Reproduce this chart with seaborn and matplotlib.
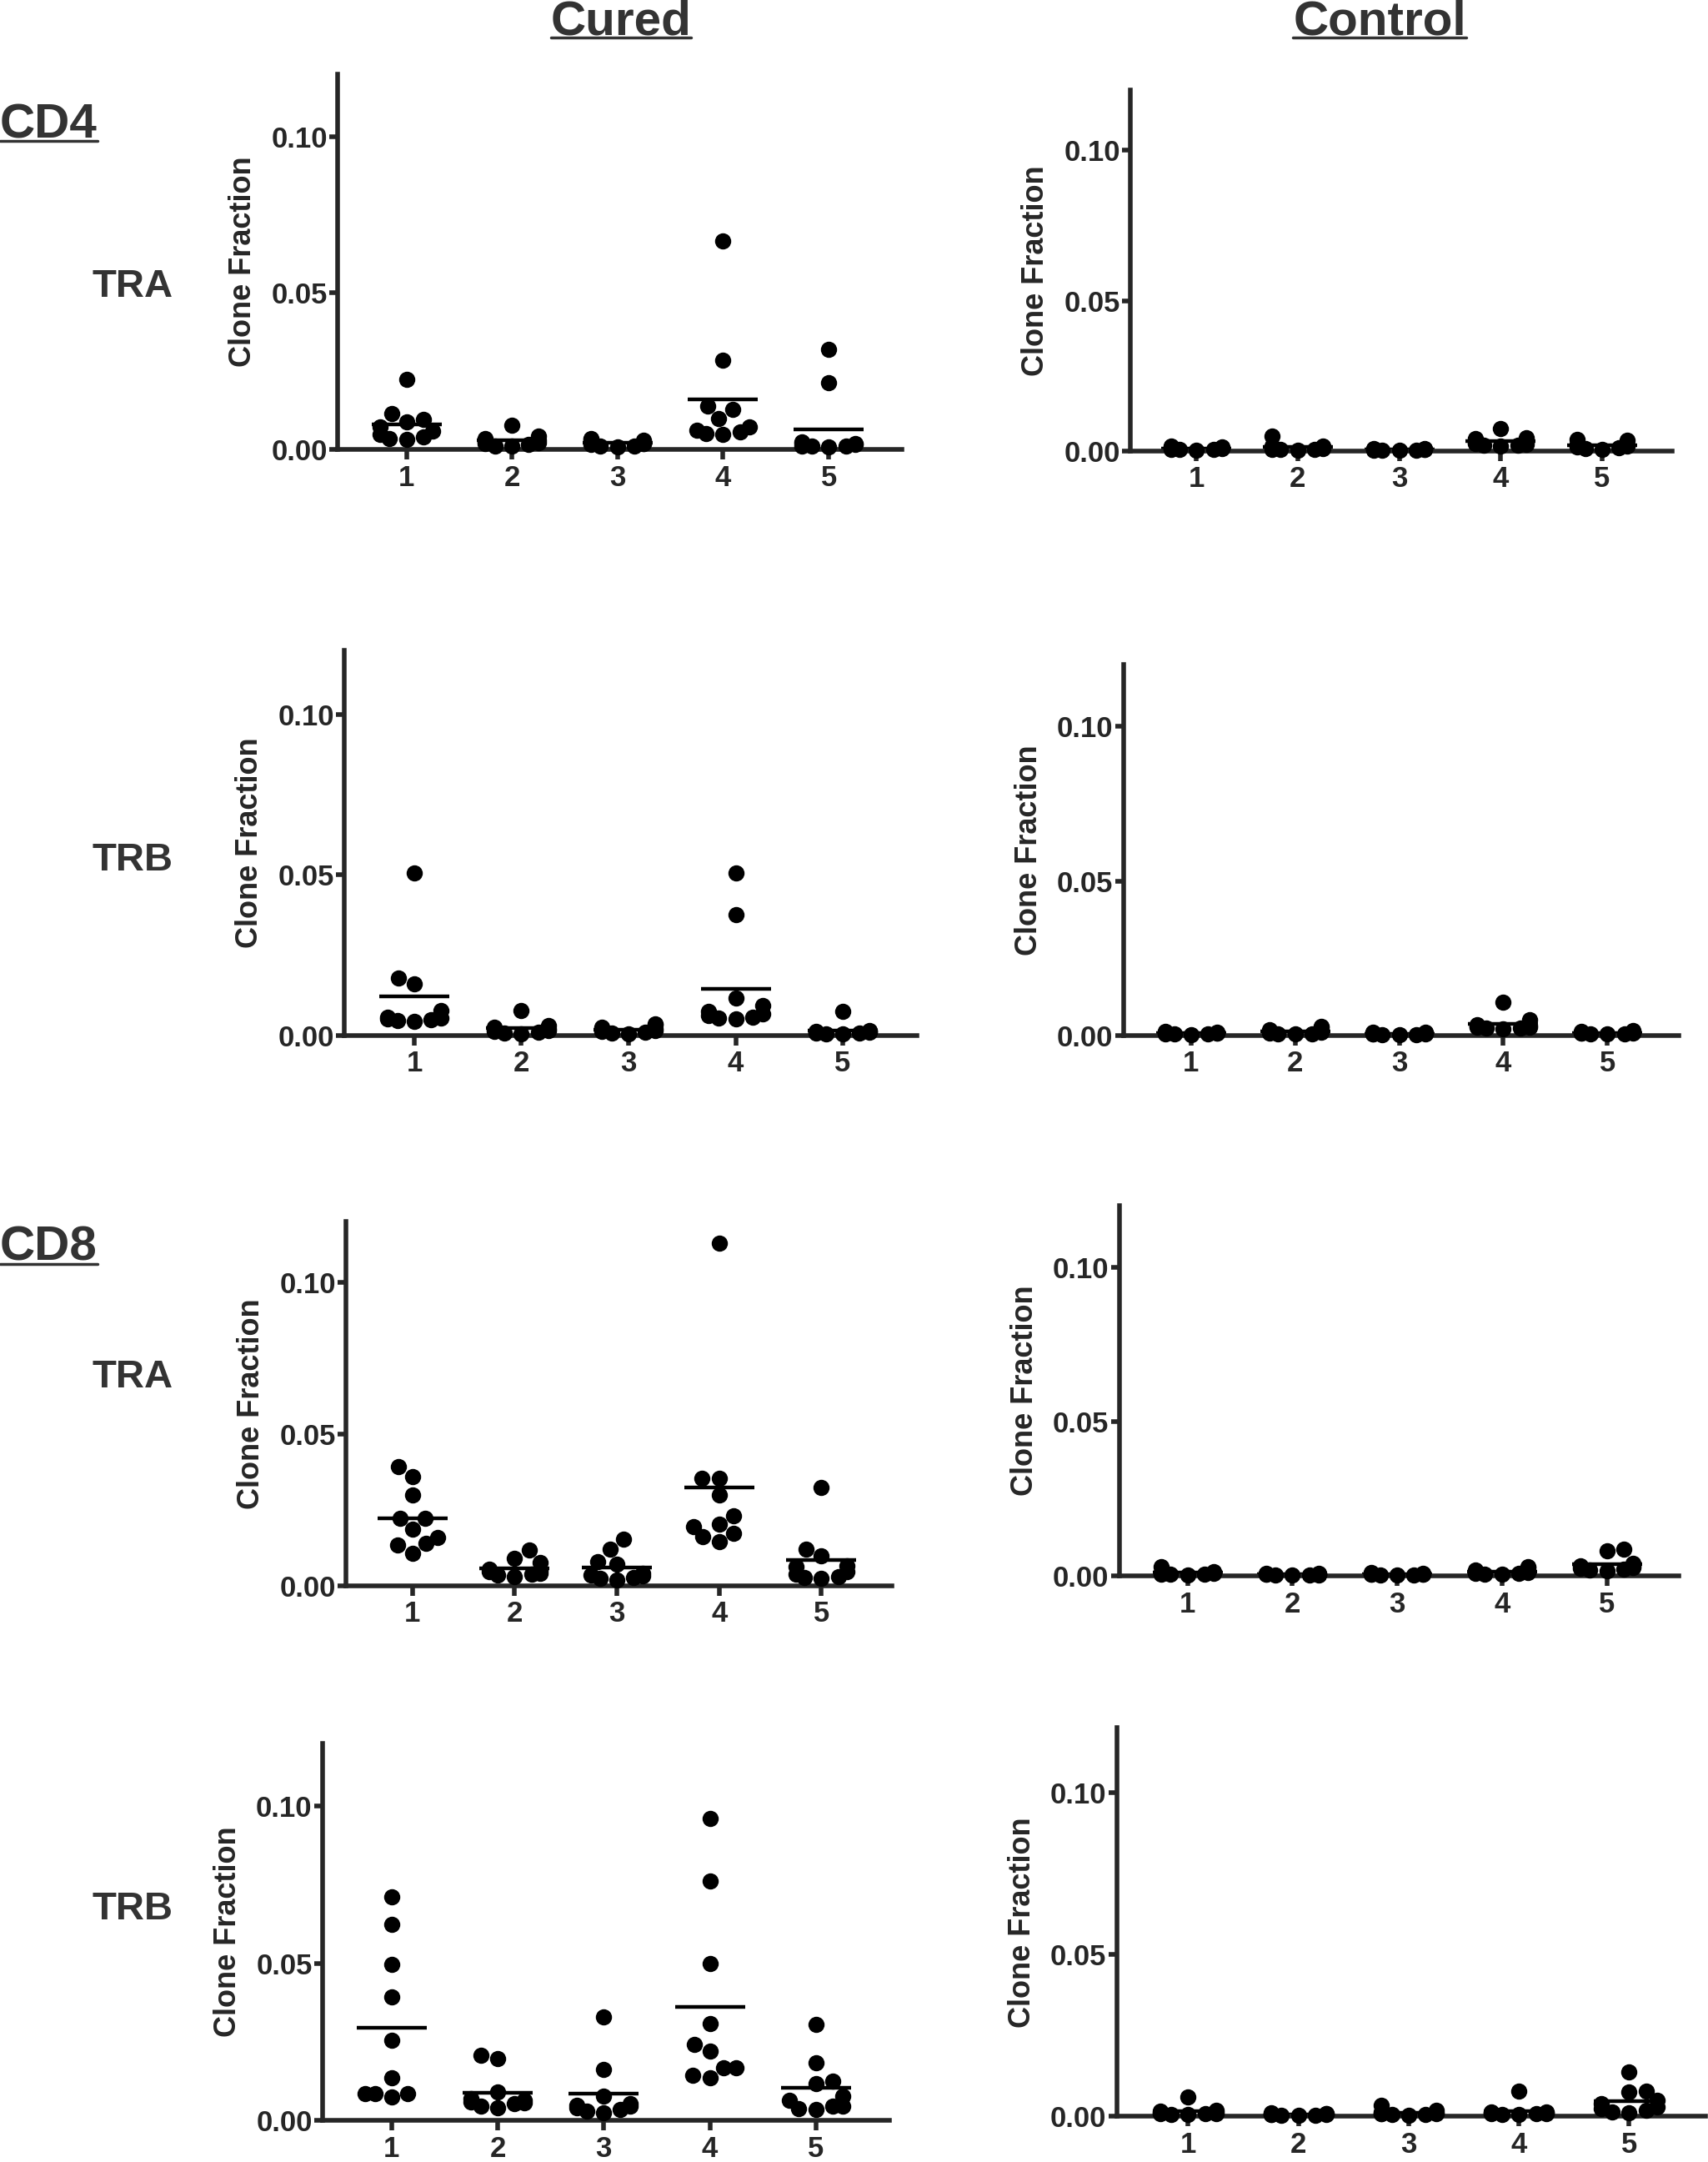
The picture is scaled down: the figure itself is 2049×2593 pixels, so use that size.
import numpy as np
import pandas as pd
import matplotlib
matplotlib.use("Agg")
import matplotlib.pyplot as plt
from matplotlib.lines import Line2D
import seaborn as sns
from seaborn import categorical

# clone fractions per sample group (10 clones each)
groups = ["1", "2", "3", "4", "5"]

cd4_tra_cured = [
    [0.0225, 0.0115, 0.0095, 0.0088, 0.0072, 0.0058, 0.0048, 0.0040, 0.0035, 0.0032],
    [0.0078, 0.0042, 0.0035, 0.0030, 0.0025, 0.0022, 0.0020, 0.0015, 0.0012, 0.0010],
    [0.0035, 0.0033, 0.0030, 0.0025, 0.0020, 0.0018, 0.0015, 0.0012, 0.0010, 0.0008],
    [0.0665, 0.0285, 0.0138, 0.0128, 0.0098, 0.0072, 0.0062, 0.0055, 0.0050, 0.0048],
    [0.0320, 0.0213, 0.0025, 0.0020, 0.0018, 0.0015, 0.0012, 0.0010, 0.0010, 0.0007],
]
cd4_tra_control = [
    [0.0016, 0.0014, 0.0012, 0.0010, 0.0008, 0.0007, 0.0006, 0.0005, 0.0004, 0.0003],
    [0.0048, 0.0017, 0.0015, 0.0012, 0.0010, 0.0008, 0.0006, 0.0005, 0.0004, 0.0003],
    [0.0008, 0.0007, 0.0006, 0.0005, 0.0005, 0.0004, 0.0003, 0.0003, 0.0002, 0.0002],
    [0.0073, 0.0045, 0.0042, 0.0030, 0.0028, 0.0025, 0.0022, 0.0020, 0.0018, 0.0015],
    [0.0037, 0.0035, 0.0022, 0.0020, 0.0018, 0.0015, 0.0012, 0.0010, 0.0008, 0.0006],
]
cd4_trb_cured = [
    [0.0507, 0.0178, 0.0160, 0.0078, 0.0058, 0.0055, 0.0052, 0.0050, 0.0047, 0.0045],
    [0.0078, 0.0030, 0.0025, 0.0020, 0.0018, 0.0015, 0.0012, 0.0010, 0.0008, 0.0006],
    [0.0035, 0.0033, 0.0025, 0.0020, 0.0018, 0.0015, 0.0012, 0.0010, 0.0008, 0.0006],
    [0.0507, 0.0375, 0.0117, 0.0092, 0.0075, 0.0068, 0.0062, 0.0058, 0.0055, 0.0052],
    [0.0076, 0.0015, 0.0013, 0.0012, 0.0010, 0.0009, 0.0008, 0.0007, 0.0006, 0.0005],
]
cd4_trb_control = [
    [0.0012, 0.0011, 0.0010, 0.0009, 0.0008, 0.0007, 0.0006, 0.0005, 0.0004, 0.0003],
    [0.0029, 0.0027, 0.0020, 0.0015, 0.0012, 0.0010, 0.0008, 0.0006, 0.0005, 0.0004],
    [0.0011, 0.0010, 0.0008, 0.0007, 0.0006, 0.0005, 0.0004, 0.0003, 0.0003, 0.0002],
    [0.0108, 0.0052, 0.0034, 0.0031, 0.0030, 0.0028, 0.0027, 0.0025, 0.0023, 0.0022],
    [0.0015, 0.0014, 0.0012, 0.0010, 0.0009, 0.0008, 0.0007, 0.0006, 0.0005, 0.0004],
]
cd8_tra_cured = [
    [0.0392, 0.0360, 0.0300, 0.0222, 0.0222, 0.0185, 0.0158, 0.0139, 0.0135, 0.0107],
    [0.0117, 0.0089, 0.0075, 0.0055, 0.0050, 0.0045, 0.0040, 0.0038, 0.0035, 0.0030],
    [0.0153, 0.0121, 0.0078, 0.0072, 0.0040, 0.0035, 0.0032, 0.0028, 0.0025, 0.0018],
    [0.1130, 0.0355, 0.0355, 0.0300, 0.0231, 0.0204, 0.0195, 0.0172, 0.0162, 0.0144],
    [0.0323, 0.0121, 0.0098, 0.0066, 0.0062, 0.0045, 0.0038, 0.0030, 0.0028, 0.0025],
]
cd8_tra_control = [
    [0.0029, 0.0013, 0.0012, 0.0010, 0.0009, 0.0008, 0.0007, 0.0006, 0.0005, 0.0004],
    [0.0009, 0.0008, 0.0007, 0.0006, 0.0006, 0.0005, 0.0004, 0.0004, 0.0003, 0.0002],
    [0.0010, 0.0009, 0.0008, 0.0007, 0.0006, 0.0005, 0.0005, 0.0004, 0.0003, 0.0002],
    [0.0030, 0.0028, 0.0020, 0.0015, 0.0012, 0.0010, 0.0009, 0.0008, 0.0006, 0.0005],
    [0.0086, 0.0081, 0.0040, 0.0033, 0.0030, 0.0028, 0.0025, 0.0022, 0.0020, 0.0018],
]
cd8_trb_cured = [
    [0.0713, 0.0624, 0.0496, 0.0393, 0.0256, 0.0136, 0.0087, 0.0087, 0.0087, 0.0074],
    [0.0207, 0.0198, 0.0092, 0.0070, 0.0065, 0.0060, 0.0058, 0.0055, 0.0045, 0.0040],
    [0.0331, 0.0163, 0.0078, 0.0055, 0.0050, 0.0045, 0.0040, 0.0035, 0.0030, 0.0025],
    [0.0962, 0.0762, 0.0500, 0.0309, 0.0242, 0.0220, 0.0167, 0.0167, 0.0145, 0.0136],
    [0.0305, 0.0185, 0.0127, 0.0118, 0.0078, 0.0065, 0.0047, 0.0045, 0.0038, 0.0035],
]
cd8_trb_control = [
    [0.0060, 0.0018, 0.0016, 0.0013, 0.0011, 0.0010, 0.0009, 0.0008, 0.0006, 0.0005],
    [0.0011, 0.0010, 0.0009, 0.0008, 0.0007, 0.0006, 0.0005, 0.0004, 0.0004, 0.0003],
    [0.0034, 0.0018, 0.0015, 0.0012, 0.0010, 0.0009, 0.0008, 0.0006, 0.0005, 0.0004],
    [0.0079, 0.0015, 0.0013, 0.0012, 0.0011, 0.0010, 0.0009, 0.0008, 0.0007, 0.0006],
    [0.0137, 0.0078, 0.0076, 0.0050, 0.0040, 0.0030, 0.0025, 0.0020, 0.0015, 0.0012],
]

# Prism spreads the dots less than seaborn's default swarm width
class NarrowSwarm(categorical.Beeswarm):
    def __init__(self, orient="x", width=0.8, warn_thresh=0.05):
        super().__init__(orient=orient, width=0.5, warn_thresh=warn_thresh)

categorical.Beeswarm = NarrowSwarm

sns.set_style("ticks")
plt.rcParams["font.family"] = ["Liberation Sans", "DejaVu Sans"]
plt.rcParams["font.weight"] = "bold"
plt.rcParams["axes.labelweight"] = "bold"

W, H = 2049, 2593
# panel boxes measured on a 1239 x 1568 view: left spine, right end, y of 0.00, y of 0.10
REF_W, REF_H = 1239, 1568
panels = [
    (cd4_tra_cured, (245, 654, 326, 99)),
    (cd4_tra_control, (820, 1213, 327, 109)),
    (cd4_trb_cured, (250, 665, 751, 518)),
    (cd4_trb_control, (815, 1218, 751, 527)),
    (cd8_tra_cured, (251, 647, 1150, 930)),
    (cd8_tra_control, (812, 1218, 1143, 919)),
    (cd8_trb_cured, (234, 645, 1538, 1310)),
    (cd8_trb_control, (810, 1237, 1535, 1300)),
]

fig = plt.figure(figsize=(W / 100, H / 100), dpi=100)

for values, (left, right, y0, y10) in panels:
    top = y0 - 1.2 * (y0 - y10)
    ax = fig.add_axes([left / REF_W, 1 - y0 / REF_H,
                       (right - left) / REF_W, (y0 - top) / REF_H])
    df = pd.DataFrame({
        "group": np.repeat(groups, [len(v) for v in values]),
        "value": np.concatenate(values),
    })
    sns.swarmplot(data=df, x="group", y="value", order=groups, color="black",
                  size=14, linewidth=0, warn_thresh=1, clip_on=False, ax=ax)
    sns.pointplot(data=df, x="group", y="value", order=groups, errorbar=None,
                  color="black", linestyle="none", marker="_", markersize=60,
                  markeredgewidth=3.2, ax=ax)

    ax.set_xlim(-0.65, 4.69)
    ax.set_ylim(0, 0.12)
    ax.set_yticks([0, 0.05, 0.10])
    ax.set_yticklabels(["0.00", "0.05", "0.10"])
    ax.set_xlabel("")
    ax.set_ylabel("Clone Fraction", fontsize=26, fontweight="bold")
    width_px = (right - left) / REF_W * W
    ax.yaxis.set_label_coords(-96 / width_px, 0.5)
    sns.despine(ax=ax)
    for side in ["left", "bottom"]:
        ax.spines[side].set_linewidth(4)
    ax.tick_params(axis="x", length=8.6, width=4, pad=4, labelsize=25)
    ax.tick_params(axis="y", length=7.4, width=4, pad=1.5, labelsize=25)

text_color = "#333333"
headers = []
headers.append((fig.text(745 / W, 1 - 41 / H, "Cured", ha="center", va="baseline",
                         fontsize=42, color=text_color), 45))
headers.append((fig.text(1655 / W, 1 - 41 / H, "Control", ha="center", va="baseline",
                         fontsize=42, color=text_color), 45))
headers.append((fig.text(0, 1 - 165 / H, "CD4", ha="left", va="baseline",
                         fontsize=42, color=text_color), 169))
headers.append((fig.text(0, 1 - 1512 / H, "CD8", ha="left", va="baseline",
                         fontsize=42, color=text_color), 1516))

for label, yc in [("TRA", 208), ("TRB", 624), ("TRA", 999), ("TRB", 1385)]:
    fig.text(96 / REF_W, 1 - yc / REF_H, label, ha="center", va="center",
             fontsize=34, color=text_color)

# underline the column / row headers
fig.canvas.draw()
renderer = fig.canvas.get_renderer()
for txt, y_line in headers:
    bb = txt.get_window_extent(renderer)
    fig.add_artist(Line2D([bb.x0 / W, bb.x1 / W], [1 - y_line / H, 1 - y_line / H],
                          transform=fig.transFigure, color=text_color, linewidth=2.5))

fig.savefig("out.png", dpi=100)
